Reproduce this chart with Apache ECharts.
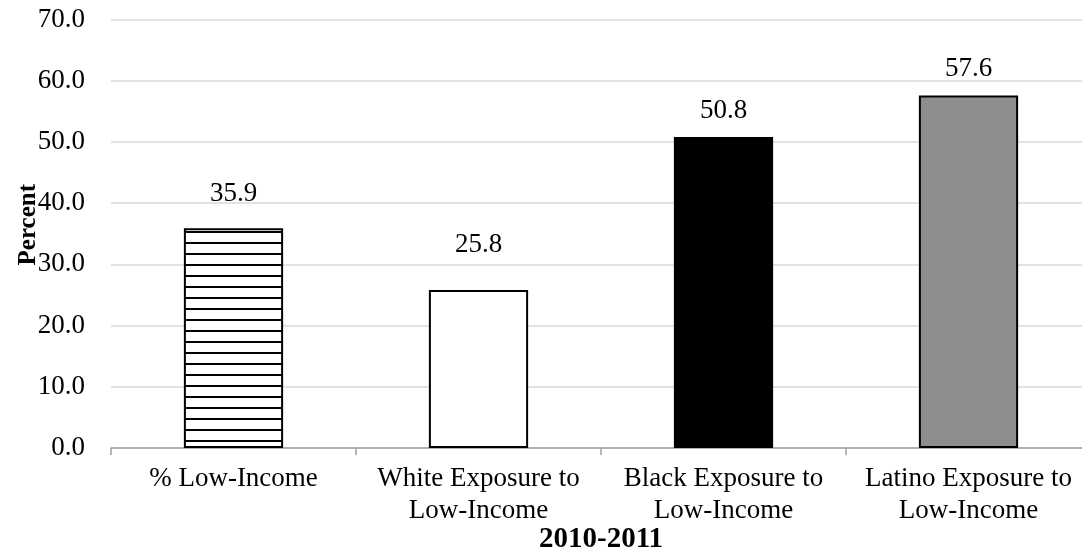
<!DOCTYPE html>
<html>
<head>
<meta charset="utf-8">
<script src="https://cdn.jsdelivr.net/npm/echarts@6/dist/echarts.min.js"></script>
<style>
  html, body { margin: 0; padding: 0; background: #fff; }
  #chart { width: 1082px; height: 556px; }
</style>
</head>
<body>
<div id="chart"></div>
<script>
// Exposure to low-income students, 2010-2011
const categories = [
  '% Low-Income',
  'White Exposure to\nLow-Income',
  'Black Exposure to\nLow-Income',
  'Latino Exposure to\nLow-Income'
];
const values = [35.9, 25.8, 50.8, 57.6];
const yTicks = { min: 0, max: 70, interval: 10 };
const xTitle = '2010-2011';
const yTitle = 'Percent';

// Horizontal-stripe fill for the first bar
function stripePattern() {
  const c = document.createElement('canvas');
  c.width = 8;
  c.height = 11;
  const ctx = c.getContext('2d');
  ctx.fillStyle = '#ffffff';
  ctx.fillRect(0, 0, 8, 11);
  ctx.fillStyle = '#000000';
  ctx.fillRect(0, 0, 8, 2);
  return c;
}

const barFills = [
  { image: stripePattern(), repeat: 'repeat' },
  '#ffffff',
  '#000000',
  '#8e8e8e'
];
// Space between each value label and its bar top
const labelDistances = [21, 32, 13, 13];

const FONT = '"Liberation Serif", "DejaVu Serif", serif';

const chart = echarts.init(document.getElementById('chart'), null, { renderer: 'canvas' });

chart.setOption({
  animation: false,
  backgroundColor: '#ffffff',
  grid: {
    left: 111, right: -9, top: 19.5, bottom: 108,
    containLabel: false, outerBoundsMode: 'none'
  },
  xAxis: {
    type: 'category',
    data: categories,
    boundaryGap: true,
    name: xTitle,
    nameLocation: 'middle',
    nameGap: 77,
    nameMoveOverlap: false,
    nameTextStyle: { fontFamily: FONT, fontWeight: 'bold', fontSize: 29, color: '#000' },
    axisLine: { show: true, lineStyle: { color: '#a0a0a0', width: 1.5 } },
    axisTick: { show: true, alignWithLabel: false, length: 7, lineStyle: { color: '#a0a0a0', width: 1.5 } },
    axisLabel: {
      fontFamily: FONT, fontSize: 27, color: '#000', lineHeight: 32, margin: 15, interval: 0
    },
    splitLine: { show: false }
  },
  yAxis: {
    type: 'value',
    min: yTicks.min,
    max: yTicks.max,
    interval: yTicks.interval,
    name: yTitle,
    nameLocation: 'middle',
    nameRotate: 90,
    nameGap: 70,
    nameMoveOverlap: false,
    nameTextStyle: {
      fontFamily: FONT, fontWeight: 'bold', fontSize: 25, color: '#000',
      padding: [0, 0, 0, 18]
    },
    axisLine: { show: false },
    axisTick: { show: false },
    axisLabel: {
      fontFamily: FONT, fontSize: 27, color: '#000', margin: 26,
      formatter: v => v.toFixed(1)
    },
    splitLine: { show: true, lineStyle: { color: '#d9d9d9', width: 1.5 } }
  },
  series: [{
    type: 'bar',
    barWidth: '40.5%',
    data: values.map((v, i) => ({
      value: v,
      itemStyle: {
        color: barFills[i],
        borderColor: '#000',
        borderWidth: i === 2 ? 0 : 2
      },
      label: { distance: labelDistances[i] }
    })),
    label: {
      show: true,
      position: 'top',
      fontFamily: FONT,
      fontSize: 27,
      color: '#000',
      formatter: p => p.value.toFixed(1)
    }
  }]
});
</script>
</body>
</html>
